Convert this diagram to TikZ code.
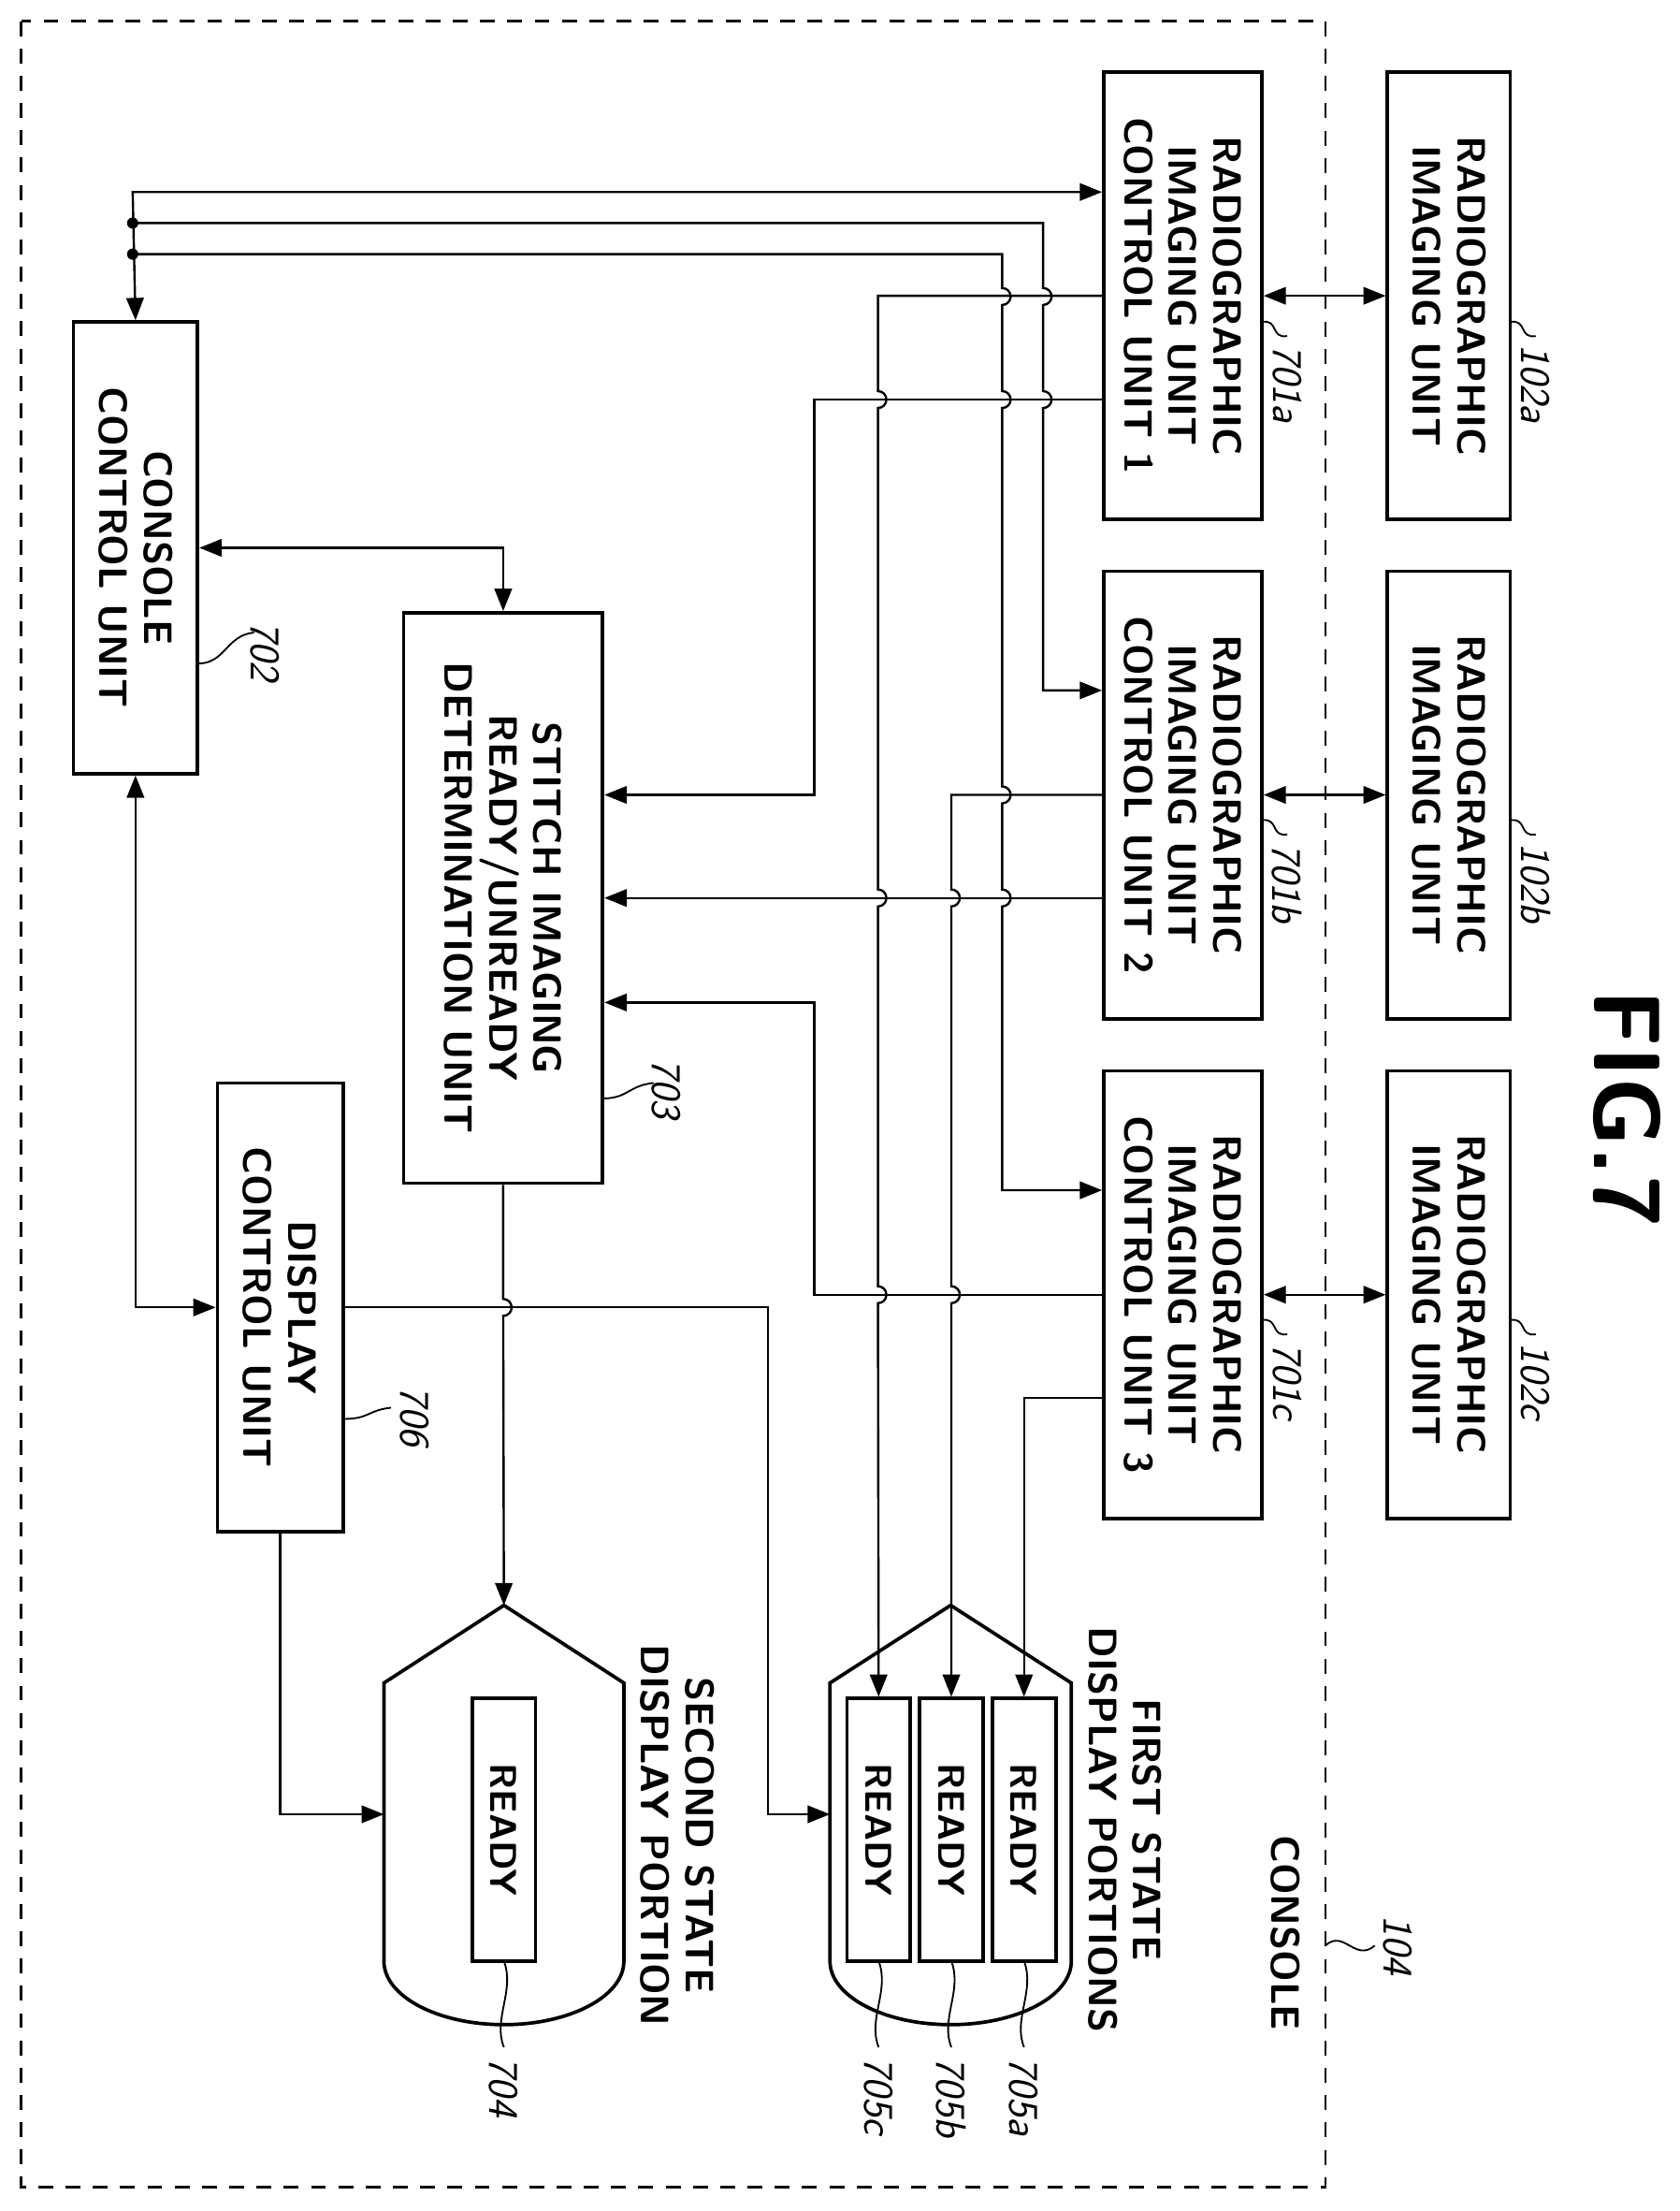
\documentclass[tikz,border=0pt]{standalone}
\usepackage{tikz}
\usetikzlibrary{arrows.meta, positioning, shapes}

\tikzset{
  blk/.style={draw, line width=1.4pt, rotate=-90, align=center,
              font=\sffamily\bfseries\fontsize{16}{18}\selectfont, inner sep=0pt},
  ref/.style={rotate=-90, anchor=west, font=\sffamily\itshape\fontsize{17}{18}\selectfont, inner sep=1pt},
  lbl/.style={rotate=-90, align=center, font=\sffamily\bfseries\fontsize{16}{18}\selectfont},
  ln/.style={line width=0.9pt},
  arr/.style={ln, -{Triangle[length=9pt,width=7pt]}},
  darr/.style={ln, {Triangle[length=9pt,width=7pt]}-{Triangle[length=9pt,width=7pt]}},
  sq/.style={line width=0.7pt}
}

\begin{document}
\begin{tikzpicture}[x=0.02cm, y=-0.02cm]
   \useasboundingbox (0,0) rectangle (1190,1566);

   % Frame
      \draw[line width=1pt, dash pattern=on 6pt off 5pt] (15,15) rectangle (939,1549);
      \node[lbl, font=\sffamily\bfseries\fontsize{38}{40}\selectfont] (fig) at (1153,785) {FIG.7};
      \node[lbl] (cons) at (911,1369) {CONSOLE};
      \node[ref, anchor=center] (l104) at (990,1378) {104};
      \draw[sq] (939,1378) .. controls (952,1366) and (960,1390) .. (974,1378);

   % Nodes
      \node[blk, minimum width=6.34cm, minimum height=1.74cm] (n102a) at (1026.5,209.5) {RADIOGRAPHIC\\IMAGING UNIT};
      \node[blk, minimum width=6.34cm, minimum height=1.74cm] (n102b) at (1026.5,563)   {RADIOGRAPHIC\\IMAGING UNIT};
      \node[blk, minimum width=6.34cm, minimum height=1.74cm] (n102c) at (1026.5,917)   {RADIOGRAPHIC\\IMAGING UNIT};
      \node[blk, minimum width=6.34cm, minimum height=2.24cm] (n701a) at (838,209.5) {RADIOGRAPHIC\\IMAGING UNIT\\CONTROL UNIT 1};
      \node[blk, minimum width=6.34cm, minimum height=2.24cm] (n701b) at (838,563)   {RADIOGRAPHIC\\IMAGING UNIT\\CONTROL UNIT 2};
      \node[blk, minimum width=6.34cm, minimum height=2.24cm] (n701c) at (838,917)   {RADIOGRAPHIC\\IMAGING UNIT\\CONTROL UNIT 3};
      \node[blk, minimum width=6.4cm,  minimum height=1.76cm] (n702) at (96,388)    {CONSOLE\\CONTROL UNIT};
      \node[blk, minimum width=8.08cm, minimum height=2.82cm] (n703) at (356.5,636) {STITCH IMAGING\\READY/UNREADY\\DETERMINATION UNIT};
      \node[blk, minimum width=6.36cm, minimum height=1.78cm] (n706) at (198.5,926) {DISPLAY\\CONTROL UNIT};

      % display portions
      \draw[line width=1.4pt] (588,1192) -- (673.5,1137) -- (759,1192) -- (759,1389)
            arc[start angle=0, end angle=180, x radius=85.5, y radius=45] -- cycle;
      \draw[line width=1.4pt] (272,1192) -- (357,1137) -- (442,1192) -- (442,1389)
            arc[start angle=0, end angle=180, x radius=85, y radius=45] -- cycle;
      \coordinate (fs) at (588,1285);
      \coordinate (ss) at (272,1285);
      \coordinate (sstip) at (357,1137);
      \node[blk, minimum width=3.72cm, minimum height=0.9cm, font=\sffamily\bfseries\fontsize{15}{17}\selectfont] (r705a) at (725.5,1296) {READY};
      \node[blk, minimum width=3.72cm, minimum height=0.9cm, font=\sffamily\bfseries\fontsize{15}{17}\selectfont] (r705b) at (674,1296)   {READY};
      \node[blk, minimum width=3.72cm, minimum height=0.9cm, font=\sffamily\bfseries\fontsize{15}{17}\selectfont] (r705c) at (622.5,1296) {READY};
      \node[blk, minimum width=3.72cm, minimum height=0.9cm, font=\sffamily\bfseries\fontsize{15}{17}\selectfont] (r704)  at (357,1296)   {READY};
      \node[lbl] (fsl) at (797,1296) {FIRST STATE\\DISPLAY PORTIONS};
      \node[lbl] (ssl) at (480,1300) {SECOND STATE\\DISPLAY PORTION};

   % Reference numerals
      \draw[sq] (1070,228) .. controls (1082,226) and (1076,240) .. (1088,238);
      \node[ref] at (1088,242) {102a};
      \draw[sq] (1070,581) .. controls (1082,579) and (1076,593) .. (1088,591);
      \node[ref] at (1088,595) {102b};
      \draw[sq] (1070,935) .. controls (1082,933) and (1076,947) .. (1088,945);
      \node[ref] at (1088,949) {102c};
      \draw[sq] (894,228) .. controls (906,226) and (900,240) .. (912,238);
      \node[ref] at (912,242) {701a};
      \draw[sq] (894,581) .. controls (906,579) and (900,593) .. (912,591);
      \node[ref] at (912,595) {701b};
      \draw[sq] (894,935) .. controls (906,933) and (900,947) .. (912,945);
      \node[ref] at (912,949) {701c};
      \draw[sq] (140,470) .. controls (160,470) and (160,450) .. (180,448);
      \node[ref] at (188,438) {702};
      \draw[sq] (427,778) .. controls (445,778) and (445,769) .. (463,767);
      \node[ref] at (472,748) {703};
      \draw[sq] (243,1005) .. controls (262,1005) and (260,999) .. (277,997);
      \node[ref] at (294,980) {706};
      \foreach \xx/\nm in {725.5/705a, 674/705b, 622.5/705c, 357/704}{
         \draw[sq] (\xx,1389) .. controls (\xx+8,1410) and (\xx-8,1430) .. (\xx,1450);
         \node[ref] at (\xx,1455) {\nm};
      }

   % Paths
      \draw[darr] (n701a.north) -- (n102a.south);
      \draw[darr] (n701b.north) -- (n102b.south);
      \draw[darr] (n701c.north) -- (n102c.south);

      \draw[darr] (n702.west) -- (94,136) -- (n701a.south |- 0,136);
      \fill (94,158) circle[radius=4] (94,180) circle[radius=4];
      \draw[arr] (94,158) -- (739,158) -- (739,204) arc[start angle=-90,end angle=90,radius=6]
                 -- (739,277) arc[start angle=-90,end angle=90,radius=6]
                 -- (739,489) -- (n701b.south |- 0,489);
      \draw[arr] (94,180) -- (710,180) -- (710,204) arc[start angle=-90,end angle=90,radius=6]
                 -- (710,277) arc[start angle=-90,end angle=90,radius=6]
                 -- (710,557) arc[start angle=-90,end angle=90,radius=6]
                 -- (710,630) arc[start angle=-90,end angle=90,radius=6]
                 -- (710,843) -- (n701c.south |- 0,843);

      \draw[arr] (n701a.south) -- (622,209.5) -- (622,277) arc[start angle=-90,end angle=90,radius=6]
                 -- (622,630) arc[start angle=-90,end angle=90,radius=6]
                 -- (622,911) arc[start angle=-90,end angle=90,radius=6]
                 -- (r705c.west);
      \draw[arr] (n701a.south |- 0,283) -- (577,283) -- (577,563) -- (n703.north |- 0,563);
      \draw[arr] (n701b.south) -- (674,563) -- (674,630) arc[start angle=-90,end angle=90,radius=6]
                 -- (674,911) arc[start angle=-90,end angle=90,radius=6]
                 -- (r705b.west);
      \draw[arr] (n701b.south |- 0,636) -- (n703.north |- 0,636);
      \draw[arr] (n701c.south) -- (577,917) -- (577,710) -- (n703.north |- 0,710);
      \draw[arr] (n701c.south |- 0,990) -- (725.5,990) -- (r705a.west);

      \draw[darr] (n702.north) -- (356.5,388) -- (n703.west);
      \draw[darr] (n702.east) -- (96,926) -- (n706.south);
      \draw[arr] (n703.east) -- (356.5,920) arc[start angle=-90,end angle=90,radius=6] -- (sstip);
      \draw[arr] (n706.north) -- (544,926) -- (544,1285) -- (fs);
      \draw[arr] (n706.east) -- (198.5,1285) -- (ss);
   \end{tikzpicture}
\end{document}
